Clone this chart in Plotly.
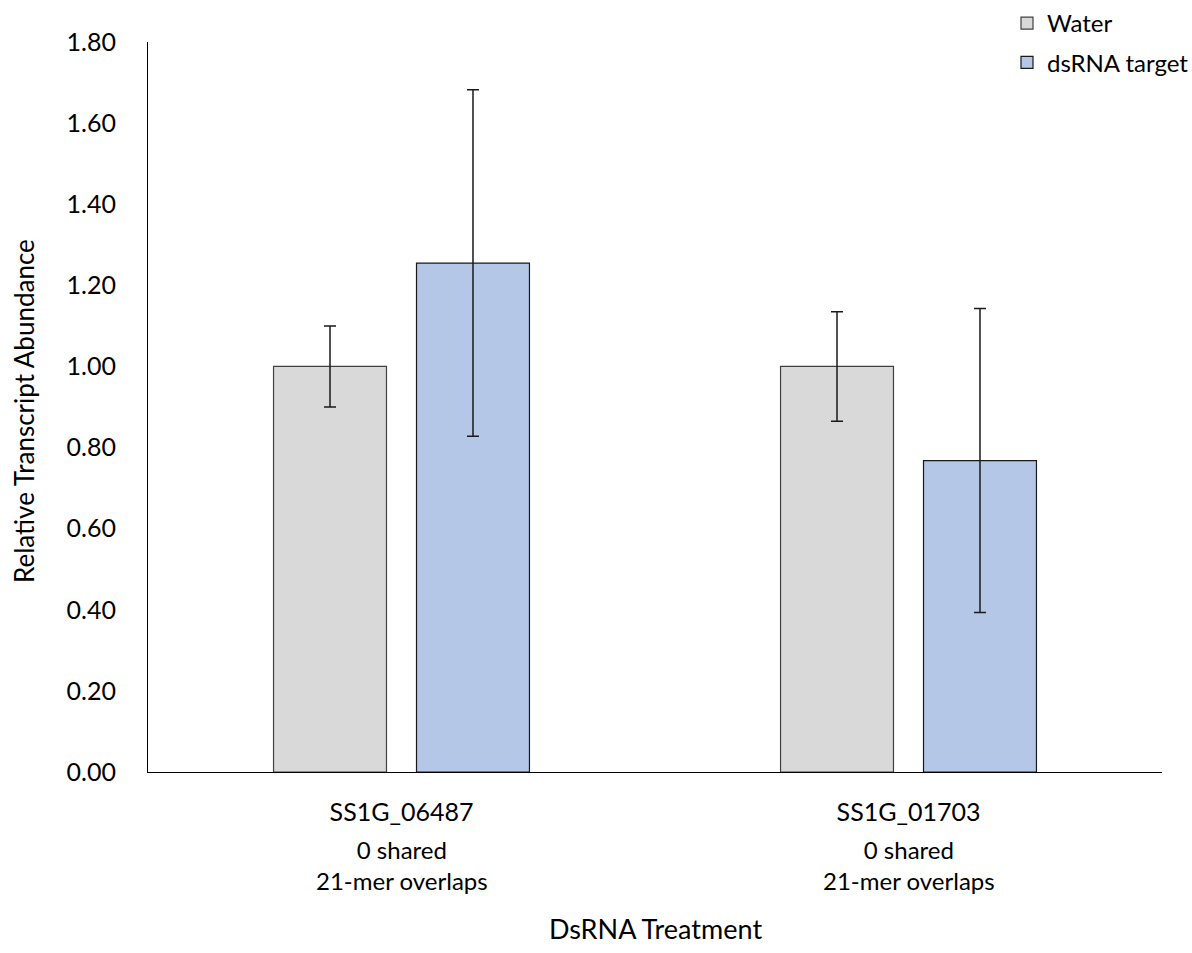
import plotly.graph_objects as go

# Gene targets and the note printed under each
genes = ["SS1G_06487", "SS1G_01703"]
gene_notes = ["0 shared<br>21-mer overlaps", "0 shared<br>21-mer overlaps"]

# Relative transcript abundance (mean) and error bar sizes
water_mean = [1.00, 1.00]
water_err = [0.10, 0.135]
dsrna_mean = [1.255, 0.768]
dsrna_err = [0.427, 0.375]

FONT = "Lato, Carlito, Calibri, sans-serif"

# plot-area geometry in pixels, used to place the free-standing labels
PLOT_L, PLOT_T, PLOT_W, PLOT_H = 148, 42, 1014, 730


def py(pixel_y):
    return (PLOT_T + PLOT_H - pixel_y) / PLOT_H


def px(pixel_x):
    return (pixel_x - PLOT_L) / PLOT_W


fig = go.Figure()
fig.add_trace(go.Bar(
    name="Water", x=genes, y=water_mean, legendgroup="w",
    marker=dict(color="#D9D9D9", line=dict(color="#404040", width=1.2)),
    error_y=dict(type="data", array=water_err, visible=True,
                 color="#1a1a1a", thickness=1.5, width=6),
))
fig.add_trace(go.Bar(
    name="dsRNA target", x=genes, y=dsrna_mean, legendgroup="d",
    marker=dict(color="#B4C7E7", line=dict(color="#1a1a1a", width=1.2)),
    error_y=dict(type="data", array=dsrna_err, visible=True,
                 color="#1a1a1a", thickness=1.5, width=6),
))

annotations = [
    dict(text=note, xref="x", yref="paper", x=g, y=py(865),
         xanchor="center", yanchor="middle", showarrow=False,
         font=dict(size=24))
    for g, note in zip(genes, gene_notes)
]
annotations += [
    dict(text="DsRNA Treatment", xref="paper", yref="paper",
         x=0.5, y=py(928), xanchor="center", yanchor="middle",
         showarrow=False, font=dict(size=27)),
    dict(text="Relative Transcript Abundance", xref="paper", yref="paper",
         x=px(24), y=py(411), xanchor="center", yanchor="middle",
         textangle=-90, showarrow=False, font=dict(size=26)),
]

fig.update_layout(
    width=1192, height=953,
    margin=dict(l=PLOT_L, r=1192 - PLOT_L - PLOT_W, t=PLOT_T,
                b=953 - PLOT_T - PLOT_H, autoexpand=False),
    paper_bgcolor="white", plot_bgcolor="white",
    font=dict(family=FONT, size=25, color="#000000"),
    barmode="group", bargap=0.436, bargroupgap=0.21,
    showlegend=True,
    legend=dict(x=px(1007), y=py(1), xanchor="left", yanchor="top",
                font=dict(size=24), bgcolor="rgba(0,0,0,0)",
                tracegroupgap=5, itemwidth=30),
    xaxis=dict(
        tickmode="array", tickvals=genes, ticktext=genes,
        showline=True, linecolor="#000000", linewidth=1,
        ticks="", showgrid=False, zeroline=False,
        tickfont=dict(size=25), ticklabelstandoff=18,
    ),
    yaxis=dict(
        range=[0, 1.8], tickvals=[0, 0.2, 0.4, 0.6, 0.8, 1.0, 1.2, 1.4, 1.6, 1.8],
        tickformat=".2f",
        showline=True, linecolor="#000000", linewidth=1,
        ticks="", showgrid=False, zeroline=False,
        tickfont=dict(size=25), ticklabelstandoff=26,
    ),
    annotations=annotations,
)

fig.write_html("out.html")
